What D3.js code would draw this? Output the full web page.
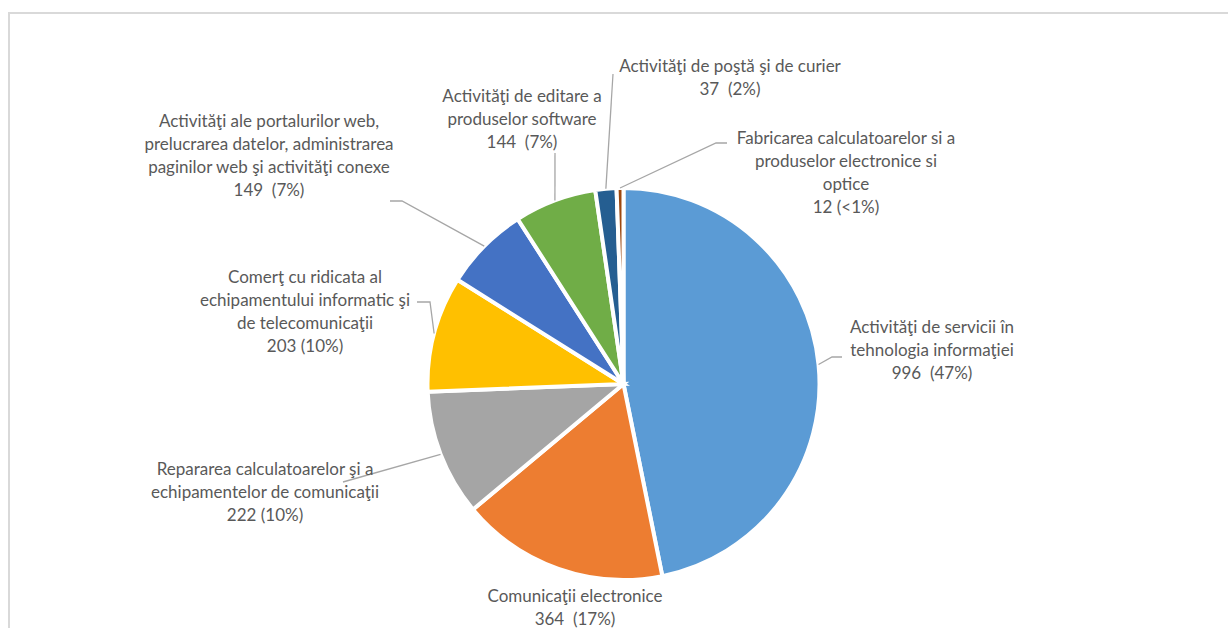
<!DOCTYPE html>
<html>
<head>
<meta charset="utf-8">
<script src="https://cdn.jsdelivr.net/npm/d3@7"></script>
<style>
  html, body { margin: 0; padding: 0; background: #fff; }
  svg { display: block; }
  text { font-family: Lato, "Open Sans", sans-serif; fill: #595959; white-space: pre; }
</style>
</head>
<body>
<svg id="chart" width="1228" height="628"></svg>
<script>
// ---- data ----
const categories = [
  ["Activităţi de servicii în", "tehnologia informaţiei"],
  ["Comunicaţii electronice"],
  ["Repararea calculatoarelor şi a", "echipamentelor de comunicaţii"],
  ["Comerţ cu ridicata al", "echipamentului informatic şi", "de telecomunicaţii"],
  ["Activităţi ale portalurilor web,", "prelucrarea datelor, administrarea", "paginilor web şi activităţi conexe"],
  ["Activităţi de editare a", "produselor software"],
  ["Activităţi de poştă şi de curier"],
  ["Fabricarea calculatoarelor si a", "produselor electronice si", "optice"]
];
const values = [996, 364, 222, 203, 149, 144, 37, 12];
const valueLabels = ["996  (47%)", "364  (17%)", "222 (10%)", "203 (10%)", "149  (7%)", "144  (7%)", "37  (2%)", "12 (<1%)"];
const colors = ["#5B9BD5", "#ED7D31", "#A5A5A5", "#FFC000", "#4472C4", "#70AD47", "#255E91", "#9E480E"];

// ---- layout (label placement, leader elbows) ----
const labelLayout = [
  { x: 932, y: 333, path: [[832, 357], [842, 357]] },
  { x: 575, y: 602, path: null },
  { x: 265, y: 475, path: [[343, 482]] },
  { x: 305, y: 283, path: [[430, 302], [417, 302]] },
  { x: 269, y: 127, path: [[402, 201], [390, 201]] },
  { x: 522, y: 102, path: [[555, 153]] },
  { x: 730, y: 72, path: [[613, 74]] },
  { x: 846, y: 144, path: [[716, 143], [727, 143]] }
];

const W = 1228, H = 628;
const cx = 623.5, cy = 384, R = 196;
const lineH = 23;

const svg = d3.select("#chart");

// chart border
svg.append("rect")
  .attr("x", 9).attr("y", 13)
  .attr("width", W + 20).attr("height", H + 20)
  .attr("fill", "#fff")
  .attr("stroke", "#d9d9d9").attr("stroke-width", 2);

const pie = d3.pie().sort(null).value(d => d).startAngle(0).endAngle(2 * Math.PI);
const arcs = pie(values);
const arc = d3.arc().innerRadius(0).outerRadius(R);

const g = svg.append("g").attr("transform", `translate(${cx},${cy})`);
g.selectAll("path.slice")
  .data(arcs)
  .join("path")
  .attr("class", "slice")
  .attr("d", arc)
  .attr("fill", (d, i) => colors[i])
  .attr("stroke", "#fff")
  .attr("stroke-width", 4)
  .attr("stroke-linejoin", "miter");

// leader lines
const leaders = svg.append("g");
arcs.forEach((d, i) => {
  const L = labelLayout[i];
  if (!L.path) return;
  const mid = (d.startAngle + d.endAngle) / 2;
  const start = [cx + R * Math.sin(mid), cy - R * Math.cos(mid)];
  const pts = [start].concat(L.path);
  leaders.append("path")
    .attr("d", d3.line()(pts))
    .attr("fill", "none")
    .attr("stroke", "#a6a6a6")
    .attr("stroke-width", 1.3);
});

// labels
const labels = svg.append("g");
categories.forEach((lines, i) => {
  const L = labelLayout[i];
  const t = labels.append("text")
    .attr("text-anchor", "middle")
    .attr("font-size", 17)
    .attr("x", L.x).attr("y", L.y);
  lines.concat([valueLabels[i]]).forEach((s, j) => {
    t.append("tspan")
      .attr("x", L.x)
      .attr("y", L.y + j * lineH)
      .text(s);
  });
});
</script>
</body>
</html>
